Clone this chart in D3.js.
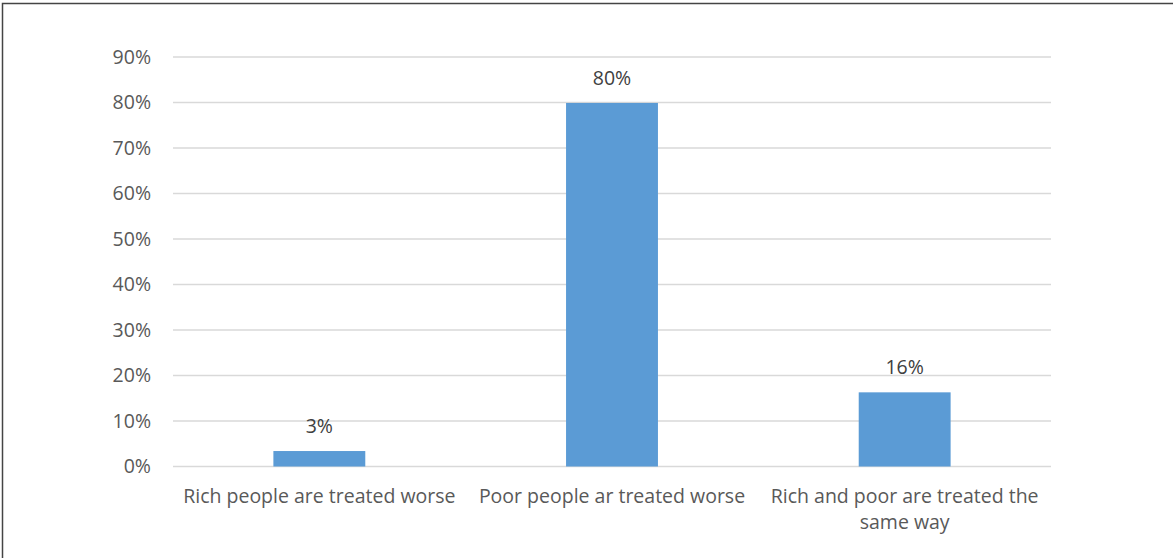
<!DOCTYPE html>
<html><head><meta charset="utf-8">
<script src="https://cdn.jsdelivr.net/npm/d3@7"></script>
<style>
html,body{margin:0;padding:0;background:#fff;}
svg{display:block;}
text{font-family:"Open Sans","Noto Sans",sans-serif;fill:#595959;}
</style></head>
<body><svg id="c" width="1173" height="558"></svg>
<script>
const categories = [["Rich people are treated worse"], ["Poor people ar treated worse"], ["Rich and poor are treated the", "same way"]];
const values = [0.034, 0.799, 0.163];
const valueLabels = ["3%", "80%", "16%"];
const yTicks = [0, 0.1, 0.2, 0.3, 0.4, 0.5, 0.6, 0.7, 0.8, 0.9];

(function(){
const svg = d3.select("#c");
const W = 1173, H = 558;
svg.append("path").attr("d", `M2.5,${H} L2.5,3.5 L${W},3.5`).attr("fill","none").attr("stroke","#444").attr("stroke-width",1.5);

const pLeft = 173, pRight = 1051, pTop = 57, pBottom = 466.5;
const x = d3.scaleBand().domain(d3.range(categories.length)).range([pLeft, pRight]).padding(0);
const y = d3.scaleLinear().domain([0, 0.9]).range([pBottom, pTop]);

const fs = 19.5;
svg.append("g").selectAll("line").data(yTicks).join("line")
  .attr("x1", pLeft).attr("x2", pRight)
  .attr("y1", d => y(d)).attr("y2", d => y(d))
  .attr("stroke", "#d9d9d9").attr("stroke-width", 1.3);

const yAxis = d3.axisLeft(y).tickValues(yTicks).tickFormat(d3.format(".0%")).tickSize(0).tickPadding(0);
const ga = svg.append("g").attr("transform", `translate(${pLeft-22},0)`).call(yAxis);
ga.select(".domain").remove();
ga.selectAll("text").attr("font-size", fs).attr("font-family", '"Open Sans","Noto Sans",sans-serif').attr("fill","#595959");

const bw = x.bandwidth() * 0.314;
svg.append("g").selectAll("rect").data(values).join("rect")
  .attr("x", (d,i) => x(i) + x.bandwidth()/2 - bw/2)
  .attr("width", bw)
  .attr("y", d => y(d))
  .attr("height", d => y(0) - y(d))
  .attr("fill", "#5b9bd5");

svg.append("g").selectAll("text").data(values).join("text")
  .attr("x", (d,i) => x(i) + x.bandwidth()/2)
  .attr("y", d => y(d) - 18)
  .attr("text-anchor", "middle")
  .attr("font-size", fs)
  .style("fill", "#404040")
  .text((d,i) => valueLabels[i]);

const cg = svg.append("g").selectAll("text").data(categories).join("text")
  .attr("x", (d,i) => x(i) + x.bandwidth()/2)
  .attr("y", 502.5)
  .attr("text-anchor", "middle")
  .attr("font-size", fs);
cg.selectAll("tspan").data(d => d).join("tspan")
  .attr("x", function(){ return this.parentNode.getAttribute("x"); })
  .attr("dy", (d,j) => j === 0 ? 0 : 26)
  .text(d => d);
})();
</script></body></html>
